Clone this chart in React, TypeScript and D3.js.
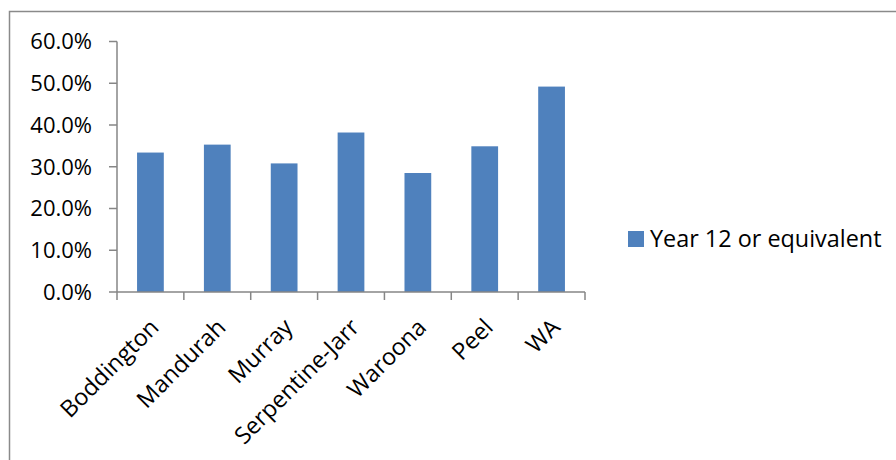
import React from "react";
import * as d3 from "d3";

const categories = ["Boddington", "Mandurah", "Murray", "Serpentine-Jarr", "Waroona", "Peel", "WA"];
const values = [0.334, 0.353, 0.308, 0.382, 0.285, 0.349, 0.492];
const yTicks = [0, 0.1, 0.2, 0.3, 0.4, 0.5, 0.6];
const seriesName = "Year 12 or equivalent";

const W = 896;
const H = 460;
const FONT = "'Open Sans', Lato, sans-serif";
const FS = 22;
const FS_TXT = 23.4;

export default function App() {
  const x = d3.scaleBand<string>().domain(categories).range([117, 585]).paddingInner(0.6).paddingOuter(0.3);
  const y = d3.scaleLinear().domain([0, 0.6]).range([292, 41.5]);
  const fmt = d3.format(".1%");
  const step = x.step();
  const x0 = 117;
  const boundaries = d3.range(categories.length + 1).map((i) => x0 + i * step);
  const axisColor = "#868686";

  return (
    <svg width={W} height={H} style={{ position: "absolute", left: 0, top: 0, background: "#fff" }}>
      <rect x={9.5} y={11.5} width={W + 10} height={H + 10} fill="#fff" stroke="#8a8a8a" strokeWidth={1.5} />
      {values.map((v, i) => (
        <rect key={i} x={x(categories[i])} y={y(v)} width={x.bandwidth()} height={y(0) - y(v)} fill="#4F81BD" />
      ))}
      {/* y axis */}
      <line x1={117} x2={117} y1={y(0.6)} y2={y(0)} stroke={axisColor} strokeWidth={1.5} />
      {yTicks.map((t) => (
        <g key={t}>
          <line x1={109} x2={117} y1={y(t)} y2={y(t)} stroke={axisColor} strokeWidth={1.5} />
          <text x={92} y={y(t)} dy="0.36em" textAnchor="end" fontFamily={FONT} fontSize={FS} fill="#000">
            {fmt(t)}
          </text>
        </g>
      ))}
      {/* x axis */}
      <line x1={117} x2={585} y1={y(0)} y2={y(0)} stroke={axisColor} strokeWidth={1.5} />
      {boundaries.map((b, i) => (
        <line key={i} x1={b} x2={b} y1={y(0)} y2={y(0) + 8} stroke={axisColor} strokeWidth={1.5} />
      ))}
      {categories.map((c) => {
        const cx = (x(c) ?? 0) + x.bandwidth() / 2;
        return (
          <text
            key={c}
            transform={`translate(${cx + 4},${323}) rotate(-45)`}
            textAnchor="end"
            dy="0.35em"
            fontFamily={FONT}
            fontSize={FS_TXT}
            fill="#000"
          >
            {c}
          </text>
        );
      })}
      {/* legend */}
      <rect x={628} y={231} width={16} height={16} fill="#4F81BD" />
      <text x={650} y={247} fontFamily={FONT} fontSize={FS_TXT} fill="#000">
        {seriesName}
      </text>
    </svg>
  );
}
